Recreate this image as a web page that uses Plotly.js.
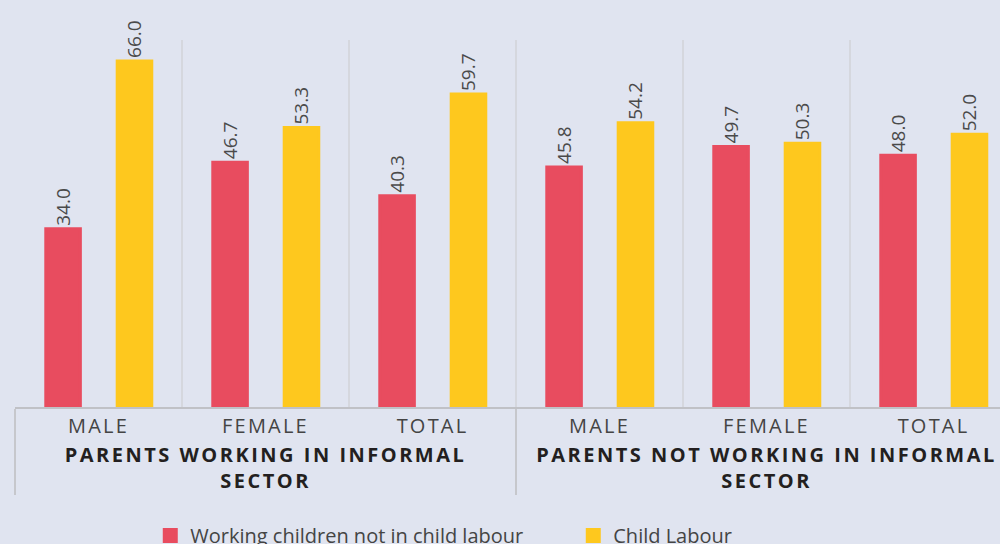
<!DOCTYPE html>
<html><head><meta charset="utf-8">
<script src="https://cdn.plot.ly/plotly-3.0.1.min.js"></script>
<style>
html,body{margin:0;padding:0;overflow:hidden;background:#e0e4f0;width:1000px;height:544px;}
#chart{width:1017px;height:560px;}
g.xtick text{letter-spacing:2.2px;}
g.xtick2 text{letter-spacing:2.5px;}
</style></head><body><div id="chart"></div>
<script>
const groups = ["PARENTS WORKING IN INFORMAL<br>SECTOR", "PARENTS NOT WORKING IN INFORMAL<br>SECTOR"];
const categories = ["MALE", "FEMALE", "TOTAL"];
const workingNotLabour = [34.0, 46.7, 40.3, 45.8, 49.7, 48.0];
const childLabour = [66.0, 53.3, 59.7, 54.2, 50.3, 52.0];
const seriesNames = ["Working children not in child labour", "Child Labour"];

const FONT = "Open Sans, sans-serif";
const xGroup = [], xCat = [];
groups.forEach(g => categories.forEach(c => {
  xGroup.push('<span style="color:#231f20"><b>' + g + '</b></span>');
  xCat.push(c);
}));

function barTrace(name, vals, color, offset) {
  return {
    type: 'bar', name: name,
    x: [xGroup, xCat], y: vals,
    width: 0.207, offset: offset,
    marker: {color: color, line: {color: color, width: 3}},
    text: vals.map(v => v.toFixed(1)),
    textposition: 'outside', textangle: -90, constraintext: 'none',
    textfont: {family: FONT, size: 19, color: '#4a4a4a'},
    outsidetextfont: {family: FONT, size: 19, color: '#4a4a4a'},
    cliponaxis: false, hoverinfo: 'skip'
  };
}

const data = [
  barTrace(seriesNames[0], workingNotLabour, '#e84c5f', -0.3156),
  barTrace(seriesNames[1], childLabour, '#fec81e', 0.112)
];

const layout = {
  width: 1017, height: 560,
  margin: {l: 15, r: 0, t: 40, b: 153},
  paper_bgcolor: '#e0e4f0', plot_bgcolor: '#e0e4f0',
  showlegend: true,
  legend: {orientation: 'h', x: 0.135, xanchor: 'left', y: -0.35, yanchor: 'middle',
    font: {family: FONT, size: 20, color: '#444'}, bgcolor: 'rgba(0,0,0,0)', entrywidth: 378},
  xaxis: {
    type: 'multicategory', showgrid: true, gridcolor: '#d5d7de', gridwidth: 2,
    showline: true, linecolor: '#c0c1c6', linewidth: 2, ticks: '',
    showdividers: true, dividercolor: '#c6c7cc', dividerwidth: 2,
    tickfont: {family: FONT, size: 20, color: '#444'}
  },
  yaxis: {range: [0, 70], showgrid: false, zeroline: false, showticklabels: false, showline: false},
  font: {family: FONT}
};

Plotly.newPlot('chart', data, layout, {displayModeBar: false, staticPlot: true});
</script></body></html>
